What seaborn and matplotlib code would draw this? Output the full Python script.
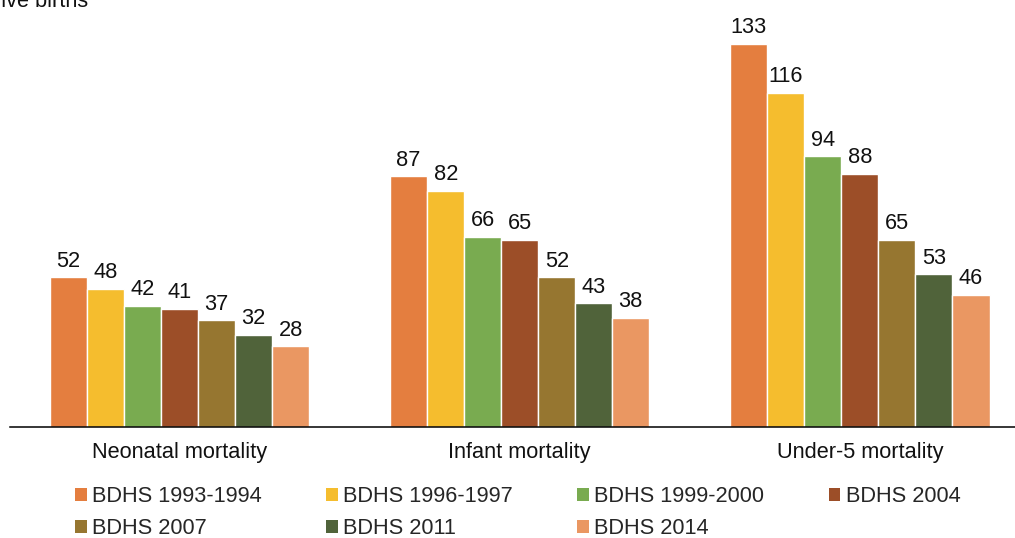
import pandas as pd
import matplotlib
matplotlib.use("Agg")
import matplotlib.pyplot as plt
import seaborn as sns
from matplotlib.patches import Patch

# data
indicators = ["Neonatal mortality", "Infant mortality", "Under-5 mortality"]
surveys = ["BDHS 1993-1994", "BDHS 1996-1997", "BDHS 1999-2000", "BDHS 2004",
           "BDHS 2007", "BDHS 2011", "BDHS 2014"]
neonatal = [52, 48, 42, 41, 37, 32, 28]
infant = [87, 82, 66, 65, 52, 43, 38]
under5 = [133, 116, 94, 88, 65, 53, 46]
colors = ["#E47E3F", "#F5BD2E", "#79AB50", "#9C4E28", "#967630", "#50633A", "#EA9762"]

rows = []
for ind, vals in zip(indicators, [neonatal, infant, under5]):
    for s, v in zip(surveys, vals):
        rows.append({"indicator": ind, "survey": s, "rate": v})
df = pd.DataFrame(rows)

sns.set_theme(style="white")
plt.rcParams["font.family"] = ["Liberation Sans", "DejaVu Sans"]

FS = 15.7

fig = plt.figure(figsize=(10.15, 5.38), dpi=100)
ax = fig.add_axes([9.5 / 1015, 111 / 538, 1020.5 / 1015, 427 / 538])

sns.barplot(data=df, x="indicator", y="rate", hue="survey", order=indicators,
            hue_order=surveys, palette=colors, width=0.762, saturation=1,
            legend=False, ax=ax)

for cont in ax.containers:
    ax.bar_label(cont, fmt="%d", padding=4, fontsize=FS, color="#111111",
                 clip_on=False)

ax.set_xlim(-0.5, 2.5)
ax.set_ylim(0, 427 / 2.88)
ax.set_xlabel("")
ax.set_ylabel("")
ax.set_yticks([])
for sp in ["top", "right", "left"]:
    ax.spines[sp].set_visible(False)
ax.spines["bottom"].set_color("black")
ax.spines["bottom"].set_linewidth(1.1)
ax.tick_params(axis="x", length=0, pad=11, labelsize=FS, labelcolor="#111111")

# axis title, partly outside the canvas as in the source
fig.text(88 / 1015, 1 - 7 / 538, "Deaths per 1,000 live births", ha="right",
         va="baseline", fontsize=FS, color="#111111")

# legend: row-major order across 4 columns
handles = [Patch(facecolor=c, edgecolor="none", label=s) for s, c in zip(surveys, colors)]
order = [0, 4, 1, 5, 2, 6, 3]
fig.legend([handles[i] for i in order], [surveys[i] for i in order],
           ncol=4, loc="upper left", bbox_to_anchor=(75 / 1015, 1 - 486 / 538),
           frameon=False, fontsize=FS, handlelength=0.55, handleheight=0.55,
           handletextpad=0.23, columnspacing=2.95, labelspacing=0.52,
           borderaxespad=0, borderpad=0)

fig.savefig("out.png", dpi=100)
